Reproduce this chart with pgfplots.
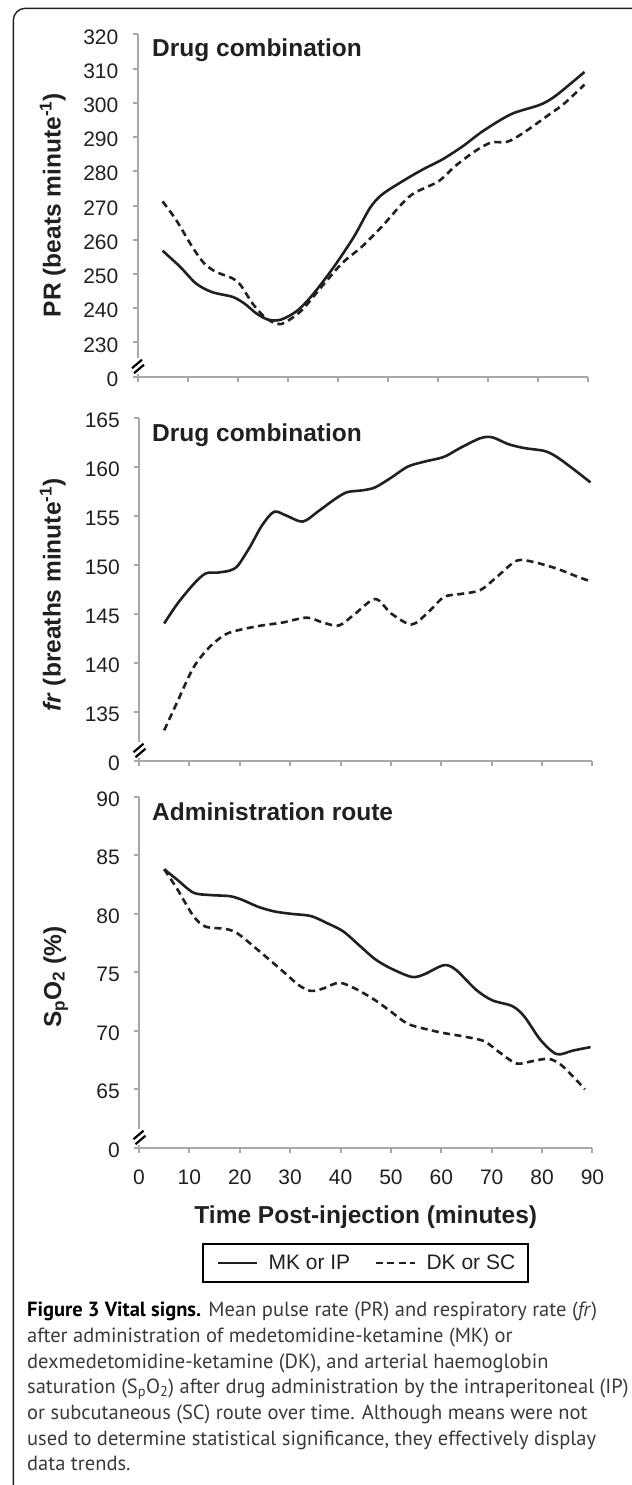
\documentclass[border=0pt]{standalone}
\usepackage{fontspec}
\setmainfont{Liberation Sans}
\newfontfamily\capfont{PT Sans}
\usepackage{pgfplots}
\pgfplotsset{compat=1.18}
\definecolor{axg}{HTML}{A6A8AB}
\definecolor{ink}{HTML}{231F20}
\definecolor{capg}{HTML}{3A3A3A}
\newcommand\tickfont{\fontsize{21bp}{25bp}\selectfont}
\newcommand\labfont{\fontsize{24.5bp}{29bp}\selectfont\bfseries}
\newcommand\capsize{\fontsize{20.5bp}{25bp}\selectfont}
\newcommand\brk[2]{%
 \fill[white] (#1bp-2.2bp,#2bp+3bp) rectangle (#1bp+2.2bp,#2bp+19bp);
 \draw[black, line width=2.2bp] (#1bp-5.5bp,#2bp+8.5bp) -- (#1bp+4.5bp,#2bp+17bp);
 \draw[black, line width=2.2bp] (#1bp-3.5bp,#2bp+3.5bp) -- (#1bp+6.5bp,#2bp+12bp);}
\pgfplotsset{
 panel/.style={
  scale only axis, clip=false,
  xmin=0, xmax=90,
  axis x line*=bottom, axis y line*=left,
  axis line style={-, draw=axg, line width=2bp},
  every outer x axis line/.append style={-},
  every outer y axis line/.append style={-},
  tick style={draw=axg, line width=2bp},
  major tick length=5bp,
  tick align=outside,
  xtick={0,10,...,90},
  /pgf/number format/assume math mode=true,
  ticklabel style={font=\tickfont, text=ink, inner sep=0pt},
  yticklabel style={xshift=-14bp, yshift=-2.5bp},
  xticklabel style={yshift=-16.6bp},
 },
 mk/.style={ink, line width=2.6bp, smooth},
 dk/.style={ink, line width=2.6bp, smooth, dash pattern=on 7bp off 4.5bp},
}
\begin{document}
\begin{tikzpicture}
\useasboundingbox (0bp,-1485bp) rectangle (632bp,0bp);
\draw[ink, line width=1.4bp] (13.3bp,-1490bp) -- (13.3bp,-20.3bp) arc[start angle=180, end angle=90, radius=12bp] -- (640bp,-8.3bp);

% Panel 1
\begin{axis}[panel, at={(137.5bp,-376.7bp)}, anchor=south west, width=451bp, height=342.4bp,
  ymin=220, ymax=320, ytick={220,230,...,320},
  yticklabels={0,230,240,250,260,270,280,290,300,310,320}, xticklabel=\empty]
\addplot[mk] coordinates {(5,256.8) (8.5,252.1) (11.7,247.2) (14.9,244.7) (19.0,243.3) (21.4,241.3) (23.8,238.4) (26.2,236.6) (28.7,236.7) (31.9,239.3) (35.1,244.2) (39.2,252.1) (43.2,260.9) (46.4,269.3) (48.8,273.2) (52.9,277.1) (56.9,280.5) (60.9,283.5) (65.0,287.4) (69.0,291.8) (74.6,296.7) (80.3,299.4) (83.5,302.1) (89.2,309.0)};
\addplot[dk] coordinates {(5,271.2) (7.7,265.8) (10.9,258.0) (13.3,253.1) (15.7,250.6) (19.0,248.7) (20.6,246.7) (23.0,241.3) (25.4,237.4) (27.8,235.4) (29.5,235.9) (32.7,239.3) (36.7,246.2) (40.8,253.1) (44.8,258.0) (48.8,263.9) (52.9,270.7) (55.3,273.7) (60.1,277.1) (63.4,281.5) (67.4,285.9) (70.6,288.4) (73.8,288.6) (77.1,291.3) (81.9,296.3) (85.1,299.7) (89.2,305.3)};
\end{axis}

% Panel 2
\begin{axis}[panel, at={(139bp,-760.7bp)}, anchor=south west, width=453.5bp, height=343bp,
  ymin=130, ymax=165, ytick={130,135,...,165},
  yticklabels={0,135,140,145,150,155,160,165}, xticklabel=\empty]
\addplot[mk] coordinates {(5.0,144.0) (7.6,146.0) (10.8,148.0) (13.2,149.1) (15.6,149.2) (18.0,149.4) (19.6,149.9) (22.0,151.8) (24.4,154.0) (26.8,155.4) (29.3,155.0) (32.5,154.4) (35.7,155.5) (38.9,156.7) (41.3,157.4) (44.5,157.6) (46.9,157.9) (50.1,158.9) (53.3,160.0) (56.5,160.5) (60.5,161.0) (63.7,161.9) (67.7,162.9) (70.1,163.0) (73.3,162.3) (76.5,161.9) (80.5,161.6) (82.9,161.0) (86.1,159.8) (89.6,158.4)};
\addplot[dk] coordinates {(5.0,133.1) (7.6,136.0) (10.8,139.5) (14.0,141.6) (17.2,142.9) (20.4,143.4) (24.4,143.8) (28.5,144.1) (33.3,144.6) (36.5,144.1) (39.7,143.8) (42.9,145.0) (46.9,146.5) (50.1,145.0) (54.1,143.9) (57.3,145.1) (60.5,146.7) (63.7,147.0) (67.7,147.4) (70.9,148.7) (74.9,150.4) (78.1,150.3) (82.9,149.6) (86.9,148.8) (89.6,148.3)};
\end{axis}

% Panel 3
\begin{axis}[panel, at={(139bp,-1147.7bp)}, anchor=south west, width=453.5bp, height=351bp,
  ymin=60, ymax=90, ytick={60,65,...,90},
  yticklabels={0,65,70,75,80,85,90},
  legend columns=2,
  legend style={at={(0.5,-0.3285)}, anchor=center, draw=black, line width=2bp, fill=white,
    inner xsep=13bp, inner ysep=11bp, font=\tickfont, text=ink,
    nodes={inner sep=0pt},
    /tikz/every odd column/.append style={column sep=10.7bp},
    /tikz/every even column/.append style={column sep=24bp}},
  legend image code/.code={\draw[#1] (0bp,0bp) -- (39bp,0bp);}]
\addplot[mk] coordinates {(5.0,83.8) (7.6,82.9) (10.8,81.8) (14.0,81.6) (18.0,81.5) (20.4,81.2) (23.6,80.6) (26.8,80.2) (30.0,80.0) (34.1,79.8) (37.3,79.2) (40.5,78.5) (43.7,77.3) (46.9,76.1) (50.1,75.3) (54.1,74.6) (56.5,74.8) (60.5,75.6) (62.9,75.2) (66.9,73.5) (70.1,72.6) (74.1,72.1) (76.5,71.2) (79.7,69.2) (82.9,68.0) (86.1,68.3) (89.6,68.6)};
\addlegendentry{MK or IP}
\addplot[dk] coordinates {(5.0,83.8) (7.6,82.1) (10.8,79.8) (13.2,78.9) (17.2,78.7) (19.6,78.3) (23.6,76.9) (28.5,75.1) (31.7,73.9) (34.1,73.4) (36.5,73.6) (39.7,74.1) (42.9,73.6) (46.9,72.6) (50.1,71.6) (53.3,70.6) (57.3,70.1) (60.5,69.8) (64.5,69.5) (68.5,69.1) (71.7,68.1) (74.9,67.2) (78.1,67.4) (81.3,67.6) (83.7,67.1) (86.1,66.1) (88.5,65.0)};
\addlegendentry{DK or SC}
\end{axis}

\brk{137.5}{-376.7}
\brk{139}{-760.7}
\brk{139}{-1147.7}

% titles
\node[anchor=base west, inner sep=0pt, font=\labfont, text=ink] at (152bp,-56bp) {Drug combination};
\node[anchor=base west, inner sep=0pt, font=\labfont, text=ink] at (152bp,-441.7bp) {Drug combination};
\node[anchor=base west, inner sep=0pt, font=\labfont, text=ink] at (152bp,-820.7bp) {Administration route};

% y labels
\node[rotate=90, anchor=base, inner sep=0pt, font=\labfont, text=ink] at (60.5bp,-205bp) {PR (beats minute\textsuperscript{-1})};
\node[rotate=90, anchor=base, inner sep=0pt, font=\labfont, text=ink] at (60.5bp,-595bp) {\textit{fr} (breaths minute\textsuperscript{-1})};
\node[rotate=90, anchor=base, inner sep=0pt, font=\labfont, text=ink] at (61bp,-977bp) {S\textsubscript{p}O\textsubscript{2} (\%)};

% x label
\node[anchor=base, inner sep=0pt, font=\labfont, text=ink] at (365.75bp,-1223.3bp) {Time Post-injection (minutes)};

% caption
\begin{scope}[every node/.style={anchor=base west, inner sep=0pt, font=\capfont\capsize, text=capg}]
\node at (27bp,-1316.7bp) {{\bfseries\color{black}Figure 3 Vital signs.} Mean pulse rate (PR) and respiratory rate (\textit{fr})};
\node at (27bp,-1342.4bp) {after administration of medetomidine-ketamine (MK) or};
\node at (27bp,-1368.1bp) {dexmedetomidine-ketamine (DK), and arterial haemoglobin};
\node at (27bp,-1393.8bp) {saturation (S\textsubscript{p}O\textsubscript{2}) after drug administration by the intraperitoneal (IP)};
\node at (27bp,-1419.5bp) {or subcutaneous (SC) route over time. Although means were not};
\node at (27bp,-1445.2bp) {used to determine statistical significance, they effectively display};
\node at (27bp,-1470.9bp) {data trends.};
\end{scope}
\end{tikzpicture}
\end{document}
